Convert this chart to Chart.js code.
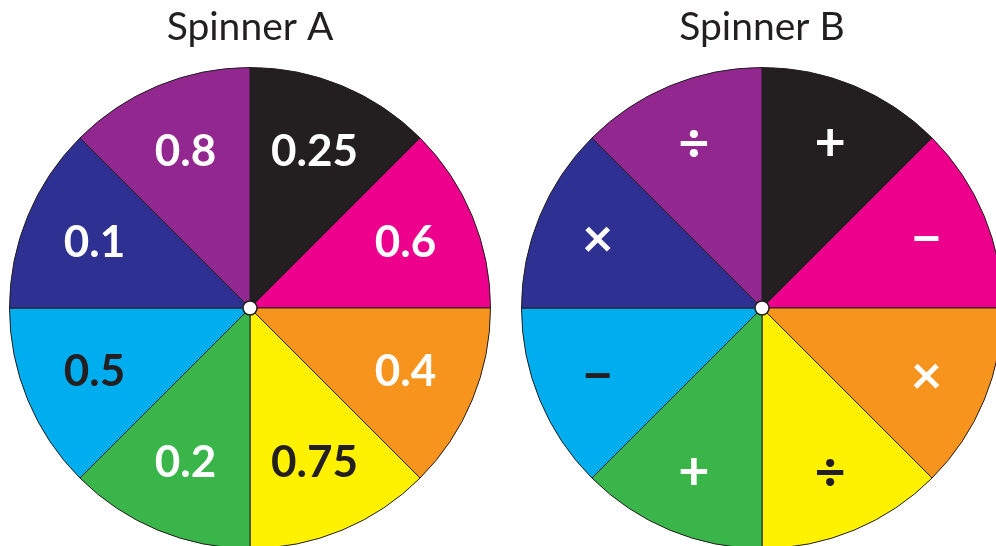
<!DOCTYPE html>
<html>
<head>
<meta charset="utf-8">
<script src="https://cdn.jsdelivr.net/npm/chart.js@4"></script>
<style>
  html, body { margin: 0; padding: 0; width: 996px; height: 546px; overflow: hidden; background: #ffffff; }
  .box { position: absolute; top: 0; width: 482px; height: 549px; }
  #boxA { left: 9px; }
  #boxB { left: 521px; }
</style>
</head>
<body>
<div class="box" id="boxA"><canvas id="chartA"></canvas></div>
<div class="box" id="boxB"><canvas id="chartB"></canvas></div>
<script>
// ---- data ----
const titleA = 'Spinner A';
const titleB = 'Spinner B';
const labelsA = ['0.25', '0.6', '0.4', '0.75', '0.2', '0.5', '0.1', '0.8'];
const labelsB = ['+', '\u2212', '\u00D7', '\u00F7', '+', '\u2212', '\u00D7', '\u00F7'];
const valuesA = [1, 1, 1, 1, 1, 1, 1, 1];
const valuesB = [1, 1, 1, 1, 1, 1, 1, 1];

// ---- styles ----
const sliceColors = ['#231f20', '#ec008c', '#f7941d', '#fff200', '#39b54a', '#00aeef', '#2e3192', '#92278f'];
const textColors = ['#ffffff', '#ffffff', '#ffffff', '#231f20', '#ffffff', '#231f20', '#ffffff', '#ffffff'];

const sliceLabelPlugin = {
  id: 'sliceLabels',
  afterDatasetsDraw(chart, args, opts) {
    const ctx = chart.ctx;
    const meta = chart.getDatasetMeta(0);
    const labels = chart.data.labels;
    ctx.save();
    ctx.font = opts.font;
    ctx.textAlign = 'center';
    ctx.textBaseline = 'middle';
    meta.data.forEach((arc, i) => {
      const p = arc.getProps(['x', 'y', 'startAngle', 'endAngle', 'outerRadius'], true);
      const mid = (p.startAngle + p.endAngle) / 2;
      const r = p.outerRadius * opts.frac;
      ctx.fillStyle = textColors[i];
      ctx.fillText(labels[i], p.x + Math.cos(mid) * r, p.y + Math.sin(mid) * r + (opts.dy || 0));
    });
    // center pin
    const a0 = meta.data[0];
    ctx.beginPath();
    ctx.arc(a0.x, a0.y, 7, 0, Math.PI * 2);
    ctx.fillStyle = '#ffffff';
    ctx.fill();
    ctx.lineWidth = 1.5;
    ctx.strokeStyle = '#231f20';
    ctx.stroke();
    ctx.restore();
  }
};

function makeSpinner(id, title, labels, values, font, frac, dy) {
  return new Chart(document.getElementById(id), {
    type: 'pie',
    data: {
      labels: labels,
      datasets: [{
        data: values,
        backgroundColor: sliceColors,
        borderColor: '#231f20',
        borderWidth: 1
      }]
    },
    options: {
      responsive: true,
      maintainAspectRatio: false,
      devicePixelRatio: 1,
      animation: false,
      events: [],
      layout: { padding: 0 },
      plugins: {
        legend: { display: false },
        tooltip: { enabled: false },
        title: {
          display: true,
          text: title,
          color: '#231f20',
          font: { family: 'Lato', size: 39, weight: 'normal', lineHeight: 1 },
          padding: { top: 8, bottom: 20 }
        },
        sliceLabels: { font: font, frac: frac, dy: dy }
      }
    },
    plugins: [sliceLabelPlugin]
  });
}

makeSpinner('chartA', titleA, labelsA, valuesA, 'bold 44px Lato', 0.70, -1);
makeSpinner('chartB', titleB, labelsB, valuesB, 'bold 54px Lato', 0.74, 0);
</script>
</body>
</html>
